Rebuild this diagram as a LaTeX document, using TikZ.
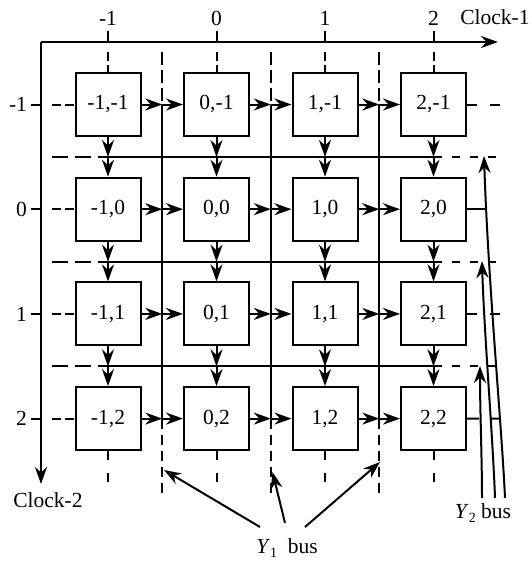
\documentclass[tikz,border=0pt]{standalone}
\usepackage{fontspec}
\setmainfont{Liberation Serif}
\usetikzlibrary{arrows.meta}
\begin{document}
\begin{tikzpicture}[x=1pt,y=-1pt, line width=2pt,
  cell/.style={draw, minimum width=65pt, minimum height=63pt, inner sep=0pt, font=\fontsize{21.5}{24}\selectfont},
  lab/.style={font=\fontsize{21.5}{24}\selectfont, inner sep=1pt},
  arr/.style={-{Stealth[length=17pt,width=12pt,inset=5.5pt]}},
  dsh/.style={dash pattern=on 9pt off 4pt},
]
\useasboundingbox (0,0) rectangle (532,562);
% axes
\coordinate (O) at (41,42);
\coordinate (C1end) at (498,42);
\coordinate (C2end) at (41,484);
\draw[arr] (O) -- (C1end);
\draw[arr] (O) -- (C2end);
\node[lab] (clk1) at (495,17) {Clock-1};
\node[lab] (clk2) at (48,500) {Clock-2};
% boxes
\foreach \c/\cl in {0/-1,1/0,2/1,3/2}{
  \foreach \r/\rl in {0/-1,1/0,2/1,3/2}{
    \node[cell] (b\c\r) at (108+108.5*\c, 104.5+104.7*\r) {\cl,\rl};
  }
}
% column labels and ticks
\foreach \c/\cl in {0/-1,1/0,2/1,3/2}{
  \coordinate (ct\c) at (108+108.5*\c,42);
  \coordinate (ctu\c) at (108+108.5*\c,31);
  \coordinate (ctd\c) at (108+108.5*\c,52);
  \node[lab] (cl\c) at (108+108.5*\c,18) {\cl};
  \draw (ct\c) -- (ctu\c);
  \draw[dsh] (ctd\c) -- (b\c0.north);
  % bottom dashes
  \coordinate (bd\c) at (108+108.5*\c,483);
  \draw[dash pattern=on 9pt off 13pt] (b\c3.south) -- (bd\c);
}
% row labels and ticks
\foreach \r/\rl in {0/-1,1/0,2/1,3/2}{
  \coordinate (rt\r) at (41,104.5+104.7*\r);
  \coordinate (rtl\r) at (31,104.5+104.7*\r);
  \coordinate (rtr\r) at (52,104.5+104.7*\r);
  \node[lab, anchor=east] (rl\r) at (29,104.5+104.7*\r) {\rl};
  \draw (rt\r) -- (rtl\r);
  \draw[dsh] (rtr\r) -- (b0\r.west);
}
% Y1 bus vertical lines and horizontal arrows
\foreach \k in {0,1,2}{
  \pgfmathtruncatemacro\nk{\k+1}
  \coordinate (vt\k) at (162.3+108.5*\k,52);
  \coordinate (vb\k) at (162.3+108.5*\k,495);
  \foreach \r in {0,1,2,3}{
    \coordinate (v\k\r) at (162.3+108.5*\k,104.5+104.7*\r);
  }
  \draw[dash pattern=on 13pt off 5pt] (vt\k) -- (v\k0);
  \draw (v\k0) -- (v\k3);
  \draw[dash pattern=on 10pt off 6pt] (v\k3) -- (vb\k);
  \foreach \r in {0,1,2,3}{
    \draw[arr] (b\k\r.east) -- (v\k\r);
    \draw[arr] (v\k\r) -- (b\nk\r.west);
  }
}
% horizontal bus lines and vertical arrows
\foreach \k in {0,1,2}{
  \pgfmathtruncatemacro\nk{\k+1}
  \coordinate (hl\k) at (52,157+104.7*\k);
  \coordinate (hr\k) at (500,157+104.7*\k);
  \foreach \c in {0,1,2,3}{
    \coordinate (h\c\k) at (108+108.5*\c,157+104.7*\k);
  }
  \draw[dash pattern=on 16pt off 7pt] (hl\k) -- (h0\k);
  \draw (h0\k) -- (h3\k);
  \draw[dash pattern=on 8pt off 10pt] (h3\k) -- (hr\k);
  \foreach \c in {0,1,2,3}{
    \draw[arr] (b\c\k.south) -- (h\c\k);
    \draw[arr] (h\c\k) -- (b\c\nk.north);
  }
}
% right stubs of column 2
\coordinate (s0) at (500,104.5);
\coordinate (s1) at (487.3,209.2);
\coordinate (s2) at (500,313.9);
\coordinate (s3) at (500,418.6);
\draw[dash pattern=on 10pt off 13pt] (b30.east) -- (s0);
\draw (b31.east) -- (s1);
\draw[dash pattern=on 10pt off 13pt] (b32.east) -- (s2);
\draw[dash pattern=on 12pt off 12pt] (b33.east) -- (s3);
% Y2 bus curves
\coordinate (ya) at (505,498);
\coordinate (yb) at (495,498);
\coordinate (yc) at (482,498);
\coordinate (ta) at (484,156);
\coordinate (tb) at (482,261);
\coordinate (tc) at (480,366);
\draw[arr] (ya) .. controls (502,430) and (488,280) .. (ta);
\draw[arr] (yb) .. controls (493,440) and (484,330) .. (tb);
\draw[arr] (yc) .. controls (482,460) and (480,410) .. (tc);
\node[lab] (y2) at (483,513) {\textit{Y}\raisebox{-4pt}{\fontsize{14}{14}\selectfont 2}\ bus};
% Y1 bus label and arrows
\node[lab] (y1) at (287,548) {\textit{Y}\raisebox{-4pt}{\fontsize{14}{14}\selectfont 1}\ \ bus};
\coordinate (f1) at (260,527);
\coordinate (f2) at (285,523);
\coordinate (f3) at (305,527);
\coordinate (p1) at (164,470);
\coordinate (p2) at (272.5,472);
\coordinate (p3) at (380,462);
\draw[arr] (f1) -- (p1);
\draw[arr] (f2) -- (p2);
\draw[arr] (f3) -- (p3);
\end{tikzpicture}
\end{document}
